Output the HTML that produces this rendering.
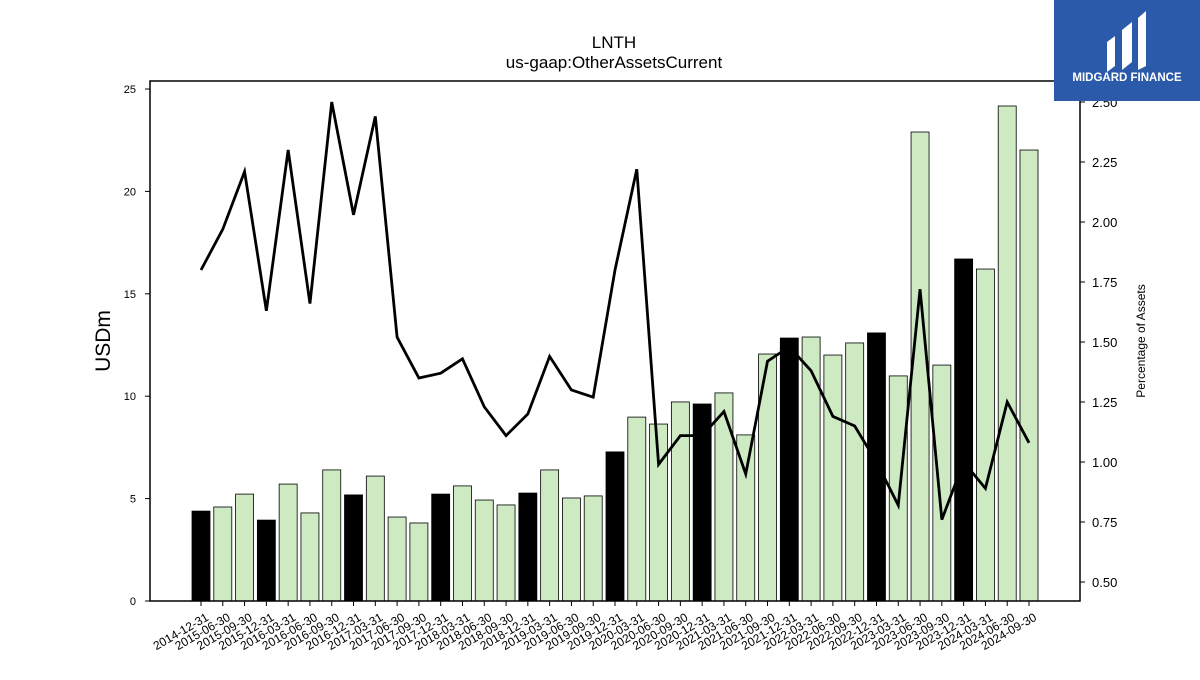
<!DOCTYPE html>
<html><head><meta charset="utf-8"><style>
body{margin:0;background:#fff;width:1200px;height:675px;overflow:hidden;font-family:"Liberation Sans","DejaVu Sans",sans-serif}
</style></head><body>
<svg id="chart" width="1200" height="675" xmlns="http://www.w3.org/2000/svg" font-family="Liberation Sans, DejaVu Sans, sans-serif">
<text x="614" y="48" text-anchor="middle" font-size="17">LNTH</text>
<text x="614" y="68" text-anchor="middle" font-size="17">us-gaap:OtherAssetsCurrent</text>
<g id="bars"></g><g id="line"></g><g id="axes"></g>
<rect x="150" y="81" width="930" height="520" fill="none" stroke="#000" stroke-width="1.5"/>
<text transform="translate(110,341) rotate(-90)" text-anchor="middle" font-size="21">USDm</text>
<text transform="translate(1145,341) rotate(-90)" text-anchor="middle" font-size="12">Percentage of Assets</text>
<g>
<rect x="1054" y="0" width="146" height="101" fill="#2b5aab"/>
<path d="M1107 42 L1115 36 L1115 66 L1107 72 Z M1122 30 L1132 22 L1132 62 L1122 70 Z M1138 18 L1146 11 L1146 66 L1138 70 Z" fill="#fff"/>
<text x="1127" y="81" text-anchor="middle" font-size="11.5" font-weight="bold" fill="#fff">MIDGARD FINANCE</text>
</g>
</svg>
<script>
const categories=["2014-12-31","2015-06-30","2015-09-30","2015-12-31","2016-03-31","2016-06-30","2016-09-30","2016-12-31","2017-03-31","2017-06-30","2017-09-30","2017-12-31","2018-03-31","2018-06-30","2018-09-30","2018-12-31","2019-03-31","2019-06-30","2019-09-30","2019-12-31","2020-03-31","2020-06-30","2020-09-30","2020-12-31","2021-03-31","2021-06-30","2021-09-30","2021-12-31","2022-03-31","2022-06-30","2022-09-30","2022-12-31","2023-03-31","2023-06-30","2023-09-30","2023-12-31","2024-03-31","2024-06-30","2024-09-30"];
const usdValues=[4.39,4.59,5.22,3.95,5.71,4.30,6.40,5.18,6.10,4.10,3.81,5.22,5.62,4.93,4.69,5.27,6.40,5.03,5.13,7.28,8.98,8.64,9.72,9.62,10.16,8.11,12.06,12.84,12.89,12.01,12.60,13.09,10.99,22.90,11.52,16.70,16.21,24.17,22.02];
const pctValues=[1.80,1.97,2.21,1.63,2.30,1.66,2.50,2.03,2.44,1.52,1.35,1.37,1.43,1.23,1.11,1.20,1.44,1.30,1.27,1.80,2.22,0.99,1.11,1.11,1.21,0.95,1.42,1.48,1.38,1.19,1.15,1.00,0.82,1.72,0.76,1.00,0.89,1.25,1.08];
const leftTicks=[0,5,10,15,20,25];
const rightTicks=[0.5,0.75,1.0,1.25,1.5,1.75,2.0,2.25,2.5];
const NS="http://www.w3.org/2000/svg";
const yL=v=>601-v*20.48;
const yR=v=>582-(v-0.5)*240;
const xC=i=>201+i*(1029-201)/(categories.length-1);
function mk(t,a,p){const e=document.createElementNS(NS,t);for(const k in a)e.setAttribute(k,a[k]);p.appendChild(e);return e;}
const bars=document.getElementById('bars'),line=document.getElementById('line'),axes=document.getElementById('axes');
categories.forEach((c,i)=>{
  const isYE=c.endsWith('12-31');
  const r=mk('rect',{x:xC(i)-9,y:yL(usdValues[i]),width:18,height:601-yL(usdValues[i]),fill:isYE?'#000':'#cdeac3',stroke:'#000','stroke-width':0.8},bars);
  
  
  const tk=mk('line',{x1:xC(i),x2:xC(i),y1:601,y2:606,stroke:'#000'},axes);
  
  
  const t=mk('text',{transform:`translate(${xC(i)+4},${612}) rotate(-30)`,'text-anchor':'end','font-size':12,'dominant-baseline':'hanging'},axes);
  
  
  t.textContent=c;
});
const pl=mk('polyline',{points:pctValues.map((v,i)=>xC(i)+','+yR(v)).join(' '),fill:'none',stroke:'#000','stroke-width':2.8},line);


leftTicks.forEach(v=>{
  const l=mk('line',{x1:145,x2:150,y1:yL(v),y2:yL(v),stroke:'#000'},axes);
  
  
  const t=mk('text',{x:136,y:yL(v)+4,'text-anchor':'end','font-size':11},axes);
  
  
  t.textContent=v;
});
rightTicks.forEach(v=>{
  const l=mk('line',{x1:1080,x2:1085,y1:yR(v),y2:yR(v),stroke:'#000'},axes);
  
  
  const t=mk('text',{x:1092,y:yR(v)+5,'font-size':13},axes);
  
  
  t.textContent=v.toFixed(2);
});
</script>
</body></html>
